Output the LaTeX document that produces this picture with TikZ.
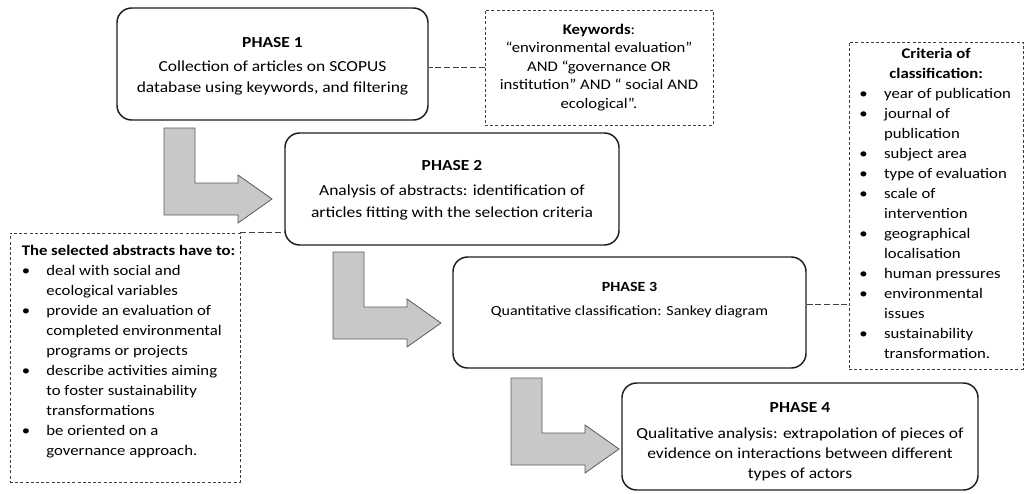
\documentclass[tikz,border=0pt]{standalone}
\usepackage{fontspec}
\setmainfont{Carlito}[FakeStretch=1.14]
\usetikzlibrary{positioning,fit}
\definecolor{boxK}{RGB}{30,30,30}
\definecolor{noteK}{RGB}{64,64,64}
\definecolor{arrG}{RGB}{200,200,200}
\definecolor{arrK}{RGB}{90,90,90}
\newcommand{\bulitem}{\makebox[18.5pt][l]{\textbullet}}
\newcommand{\bulcont}{\hspace*{18.5pt}}

\begin{document}
\begin{tikzpicture}[x=0.75pt,y=-0.75pt,
  phase/.style={draw=boxK,line width=1.1pt,rounded corners=11pt,inner sep=0pt},
  note/.style={draw=noteK,line width=0.7pt,dash pattern=on 2.3pt off 1.6pt,inner sep=0pt},
  link/.style={draw=noteK,line width=0.8pt,dash pattern=on 4.5pt off 2pt},
  larrow/.style={fill=arrG,draw=arrK,line width=0.6pt},
  phasetext/.style={align=center,inner sep=0pt,font=\fontsize{11.5}{16}\selectfont},
  notetext/.style={inner sep=0pt,font=\fontsize{11}{15}\selectfont}]
\useasboundingbox (0,0) rectangle (1032,493);
% block arrows from one phase to the next
\foreach \ax/\ay in {164/128,333/252,511/378}
  \draw[larrow] (\ax,\ay) -- ++(31,0) -- ++(0,55) -- ++(43,0) -- ++(0,-8) -- ++(34,24)
    -- ++(-34,24) -- ++(0,-8) -- ++(-74,0) -- cycle;
% the four phases
\node[phase,fit={(117,8) (428,120)}] (p1) {};
\node[phase,fit={(285,133) (619,245)}] (p2) {};
\node[phase,fit={(453,257) (806,368)}] (p3) {};
\node[phase,fit={(622,383) (978,490)}] (p4) {};
\node[phasetext,below=22.5pt of p1.north] (p1t) {\textbf{PHASE 1}\\[2pt] Collection of articles on SCOPUS\\ database using keywords, and filtering};
\node[phasetext,below=21pt of p2.north] (p2t) {\textbf{PHASE 2}\\[3pt] Analysis of abstracts: identification of\\ articles fitting with the selection criteria};
\node[phasetext,below=19.5pt of p3.north,font=\fontsize{10.5}{16}\selectfont] (p3t) {\textbf{PHASE 3}\\[2pt] Quantitative classification: Sankey diagram};
\node[phasetext,below=15pt of p4.north,font=\fontsize{11.5}{14.8}\selectfont] (p4t) {\textbf{PHASE 4}\\[5pt] Qualitative analysis: extrapolation of pieces of\\ evidence on interactions between different\\ types of actors};
% side notes
\node[note,fit={(485,10) (713,125)}] (kw) {};
\node[notetext,align=center,font=\fontsize{11}{13.8}\selectfont] (kwt) at (kw.center) {\textbf{Keywords}:\\ “environmental evaluation”\\ AND “governance OR\\ institution” AND “ social AND\\ ecological”.};
\node[note,fit={(10,233) (240,482)}] (sel) {};
\node[notetext,align=left,anchor=north west] (selt) at ([xshift=9pt,yshift=-9pt]sel.north west) {\textbf{The selected abstracts have to:}\\
  \bulitem deal with social and\\ \bulcont ecological variables\\
  \bulitem provide an evaluation of\\ \bulcont completed environmental\\ \bulcont programs or projects\\
  \bulitem describe activities aiming\\ \bulcont to foster sustainability\\ \bulcont transformations\\
  \bulitem be oriented on a\\ \bulcont governance approach.};
\node[note,fit={(849,42) (1023,369)}] (cr) {};
\node[notetext,align=left,anchor=north west] (crt) at ([xshift=8pt,yshift=-5pt]cr.north west) {\makebox[115pt]{\textbf{Criteria of}}\\ \makebox[115pt]{\textbf{classification:}}\\
  \bulitem year of publication\\ \bulitem journal of\\ \bulcont publication\\ \bulitem subject area\\
  \bulitem type of evaluation\\ \bulitem scale of\\ \bulcont intervention\\ \bulitem geographical\\
  \bulcont localisation\\ \bulitem human pressures\\ \bulitem environmental\\ \bulcont issues\\
  \bulitem sustainability\\ \bulcont transformation.};
% dashed links to the notes
\draw[link] (kw.west) -- (kw.west -| p1.east);
\draw[link] (sel.north east) -- (sel.north east -| p2.west);
\draw[link] ([yshift=6pt]p3.east) -- ([yshift=6pt]p3.east -| cr.west);
\end{tikzpicture}
\end{document}
